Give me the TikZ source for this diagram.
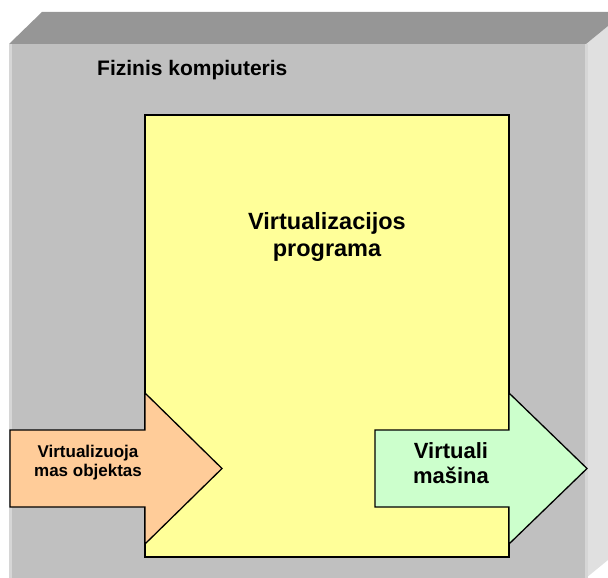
\documentclass[tikz,border=0pt]{standalone}
\usepackage{fontspec}
\setmainfont{Liberation Sans}
\definecolor{frontgray}{HTML}{C0C0C0}
\definecolor{topgray}{HTML}{969696}
\definecolor{sidegray}{HTML}{E0E0E0}
\definecolor{edgegray}{HTML}{D6D6D6}
\definecolor{progyellow}{HTML}{FFFF99}
\definecolor{srcorange}{HTML}{FFCC99}
\definecolor{vmgreen}{HTML}{CCFFCC}
\tikzset{
  outline/.style={draw=black, line width=1.3pt, line join=miter},
  label/.style={font=\bfseries, align=center, inner sep=0pt, text=black}
}
\begin{document}
\begin{tikzpicture}[x=1pt, y=-1pt]
  \useasboundingbox (0,0) rectangle (608,578);
  % physical computer: a grey block seen in oblique view
  \fill[sidegray] (586,44) -- (608,26) -- (608,560) -- (586,578) -- cycle;
  \fill[topgray] (9,44) -- (42,12) -- (608,12) -- (608,26) -- (586,44) -- cycle;
  \fill[frontgray] (9,44) rectangle (586,578);
  \fill[edgegray] (9,44) rectangle (12,578);
  \fill[edgegray] (585,44) rectangle (588,578);
  \node[label, font=\bfseries\fontsize{21}{24}\selectfont, anchor=base west] (pc) at (97,75) {Fizinis kompiuteris};
  % virtualization software
  \draw[outline, fill=progyellow] (145,115) rectangle (509,557);
  \node[label, font=\bfseries\fontsize{23.5}{27}\selectfont, anchor=base] (prog) at (327,256) {Virtualizacijos\\programa};
  % input arrow
  \draw[outline, fill=srcorange] (10,430) -- (145,430) -- (145,393) -- (222,468.5) -- (145,544) -- (145,507) -- (10,507) -- cycle;
  \node[label, font=\bfseries\fontsize{17}{19}\selectfont, anchor=base] (src) at (88,476) {Virtualizuoja\\mas objektas};
  % output arrow
  \draw[outline, fill=vmgreen] (375,430) -- (509,430) -- (509,393) -- (587,468.5) -- (509,544) -- (509,507) -- (375,507) -- cycle;
  \node[label, font=\bfseries\fontsize{22}{25}\selectfont, anchor=base] (vm) at (451,483) {Virtuali\\mašina};
\end{tikzpicture}
\end{document}
